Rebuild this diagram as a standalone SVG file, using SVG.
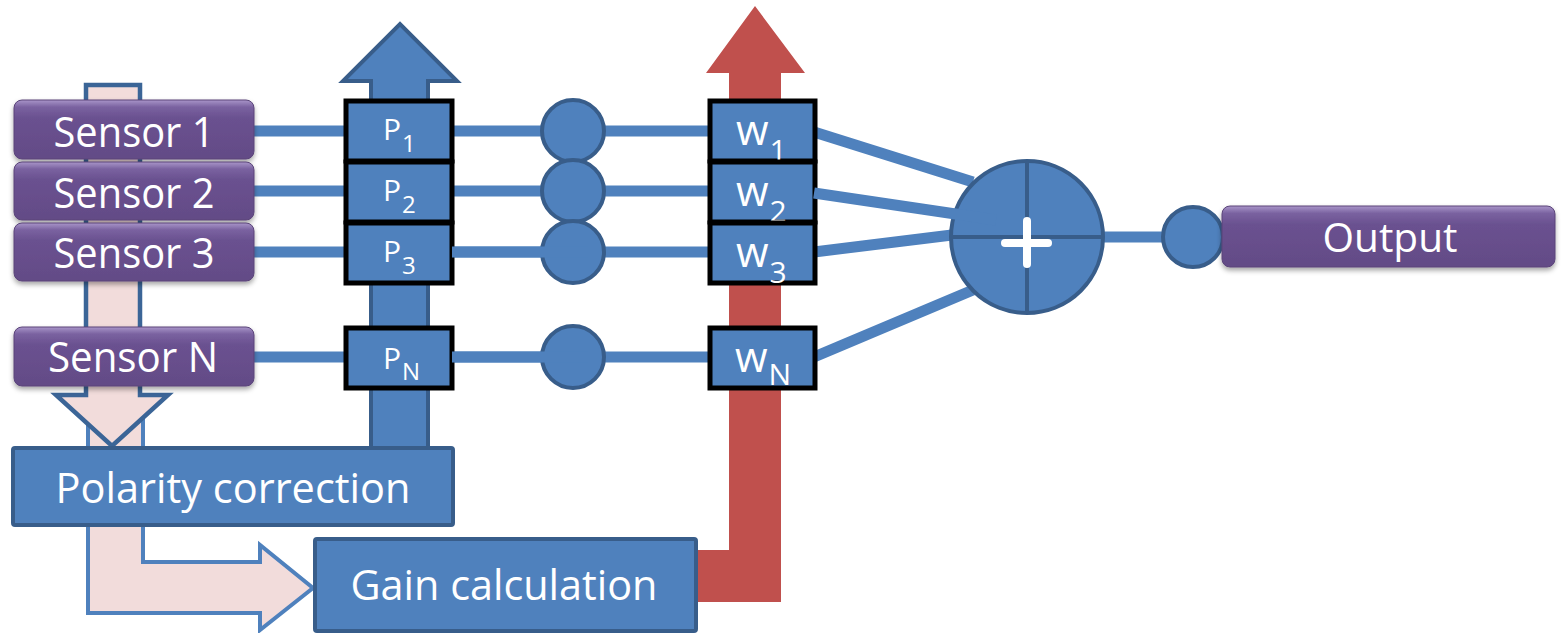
<svg xmlns="http://www.w3.org/2000/svg" width="1562" height="633" viewBox="0 0 1562 633">
  <defs>
    <linearGradient id="purpleGloss" x1="0" y1="0" x2="0" y2="1">
      <stop offset="0" stop-color="#A995C9"/>
      <stop offset="0.12" stop-color="#7A62A0"/>
      <stop offset="0.3" stop-color="#6A5190"/>
      <stop offset="1" stop-color="#634B86"/>
    </linearGradient>
    <filter id="shadow" x="-10%" y="-20%" width="120%" height="150%">
      <feDropShadow dx="0" dy="3" stdDeviation="2.5" flood-color="#000" flood-opacity="0.35"/>
    </filter>
    <style>
      .lbl { font-family: "Open Sans", "Liberation Sans", sans-serif; fill: #fff; text-anchor: middle; }
      .big { font-size: 42px; }
      .sensor { fill: url(#purpleGloss); stroke: #5A4479; stroke-width: 1; filter: url(#shadow); }
      .blk { fill: #4F81BD; stroke: #385D8A; stroke-width: 4; }
      .cell { fill: #4F81BD; stroke: #000; stroke-width: 5; }
      .wire { stroke: #4F81BD; stroke-width: 11; fill: none; }
      .dot { fill: #4F81BD; stroke: #385D8A; stroke-width: 4; }
      .sym { font-family: "Open Sans", "Liberation Sans", sans-serif; fill: #fff; }
      .pl { font-size: 30px; }
      .ps { font-size: 24px; }
      .wl { font-size: 42px; }
      .ws { font-size: 30px; }
    </style>
  </defs>

  <!-- flow arrows behind the blocks -->
  <g id="flows">
    <path d="M88,400 L88,613 L260,613 L260,630 L313,588 L260,545 L260,562 L143,562 L143,400 Z" fill="#F2DCDB" stroke="#4F81BD" stroke-width="4" stroke-linejoin="miter"/>
    <path d="M86,85 L140,85 L140,395 L168,395 L112,446 L56,395 L86,395 Z" fill="#F2DCDB" stroke="#3B6597" stroke-width="4.5"/>
    <path d="M371,449 L371,81 L343,81 L400,24 L457,81 L428,81 L428,449 Z" fill="#4F81BD" stroke="#385D8A" stroke-width="4"/>
    <path d="M690,550 L729,550 L729,73 L706,73 L755,6 L805,73 L781,73 L781,602 L690,602 Z" fill="#C0504D"/>
  </g>

  <!-- signal wires -->
  <g id="connectors">
    <line class="wire" x1="254" y1="131" x2="346" y2="131"/>
    <line class="wire" x1="254" y1="191" x2="346" y2="191"/>
    <line class="wire" x1="254" y1="252" x2="346" y2="252"/>
    <line class="wire" x1="254" y1="357" x2="346" y2="357"/>
    <line class="wire" x1="452" y1="131" x2="710" y2="131"/>
    <line class="wire" x1="452" y1="191" x2="710" y2="191"/>
    <line class="wire" x1="452" y1="252" x2="710" y2="252"/>
    <line class="wire" x1="452" y1="357" x2="710" y2="357"/>
    <line class="wire" x1="814" y1="132" x2="973" y2="182"/>
    <line class="wire" x1="814" y1="252" x2="952" y2="235"/>
    <line class="wire" x1="814" y1="357" x2="973" y2="290"/>
    <line class="wire" x1="1100" y1="237" x2="1165" y2="237"/>
  </g>

  <!-- polarity cells -->
  <g id="p1"><rect class="cell" x="346" y="101" width="106" height="60"/><text class="sym pl" x="383" y="140">P<tspan class="ps" dx="1" dy="12">1</tspan></text></g>
  <g id="p2"><rect class="cell" x="346" y="162" width="106" height="60"/><text class="sym pl" x="383" y="201">P<tspan class="ps" dx="1" dy="12">2</tspan></text></g>
  <g id="p3"><rect class="cell" x="346" y="223" width="106" height="60"/><text class="sym pl" x="383" y="262">P<tspan class="ps" dx="1" dy="12">3</tspan></text></g>
  <g id="pN"><rect class="cell" x="346" y="328" width="106" height="60"/><text class="sym pl" x="383" y="369">P<tspan class="ps" font-size="22" dx="1" dy="11">N</tspan></text></g>

  <!-- delay nodes -->
  <g id="d1"><circle class="dot" cx="573" cy="131" r="31"/></g>
  <g id="d2"><circle class="dot" cx="573" cy="191" r="31"/></g>
  <g id="d3"><circle class="dot" cx="573" cy="252" r="31"/><line class="wire" x1="452" y1="252" x2="588" y2="252"/></g>
  <g id="dN"><circle class="dot" cx="573" cy="357" r="31"/><line class="wire" x1="452" y1="357" x2="588" y2="357"/></g>

  <!-- weight cells -->
  <g id="w1"><rect class="cell" x="710" y="101" width="105" height="60"/><text class="sym wl" x="736" y="145">w<tspan class="ws" dx="1" dy="16">1</tspan></text></g>
  <g id="w2"><rect class="cell" x="710" y="162" width="105" height="60"/><text class="sym wl" x="736" y="206">w<tspan class="ws" dx="1" dy="16">2</tspan></text></g>
  <g id="w3"><rect class="cell" x="710" y="223" width="105" height="60"/><text class="sym wl" x="736" y="267">w<tspan class="ws" dx="1" dy="16">3</tspan></text></g>
  <g id="wN"><rect class="cell" x="710" y="328" width="105" height="60"/><text class="sym wl" x="735" y="372">w<tspan class="ws" dx="1" dy="13">N</tspan></text></g>

  <!-- summing junction -->
  <g id="sum">
    <circle class="dot" cx="1027" cy="237" r="76"/>
    <line x1="1027" y1="161" x2="1027" y2="313" stroke="#385D8A" stroke-width="4"/>
    <line x1="951" y1="237" x2="1103" y2="237" stroke="#385D8A" stroke-width="4"/>
    <line class="wire" x1="814" y1="193" x2="996" y2="220"/>
    <line x1="1005" y1="243" x2="1048" y2="243" stroke="#fff" stroke-width="8" stroke-linecap="round"/>
    <line x1="1027" y1="221" x2="1027" y2="264" stroke="#fff" stroke-width="8" stroke-linecap="round"/>
  </g>

  <g id="outNode"><circle class="dot" cx="1193" cy="237" r="30"/></g>

  <!-- processing blocks -->
  <g id="polarity">
    <rect class="blk" x="13" y="448" width="440" height="77" rx="2"/>
    <text class="lbl big" x="233" y="503" textLength="355" lengthAdjust="spacingAndGlyphs">Polarity correction</text>
  </g>
  <g id="gain">
    <rect class="blk" x="315" y="539" width="381" height="92" rx="2"/>
    <text class="lbl big" x="504" y="600" textLength="307" lengthAdjust="spacingAndGlyphs">Gain calculation</text>
  </g>

  <!-- sensors and output -->
  <g id="sensor1">
    <rect class="sensor" x="14" y="100" width="240" height="59" rx="8"/>
    <text class="lbl big" x="134" y="147" textLength="161" lengthAdjust="spacingAndGlyphs">Sensor 1</text>
  </g>
  <g id="sensor2">
    <rect class="sensor" x="14" y="162" width="240" height="58" rx="8"/>
    <text class="lbl big" x="134" y="208" textLength="161" lengthAdjust="spacingAndGlyphs">Sensor 2</text>
  </g>
  <g id="sensor3">
    <rect class="sensor" x="14" y="223" width="240" height="58" rx="8"/>
    <text class="lbl big" x="134" y="268" textLength="161" lengthAdjust="spacingAndGlyphs">Sensor 3</text>
  </g>
  <g id="sensorN">
    <rect class="sensor" x="14" y="327" width="240" height="59" rx="8"/>
    <text class="lbl big" x="133" y="372" textLength="170" lengthAdjust="spacingAndGlyphs">Sensor N</text>
  </g>
  <g id="output">
    <rect class="sensor" x="1222" y="206" width="333" height="61" rx="8"/>
    <text class="lbl" font-size="40" x="1390" y="252" textLength="135" lengthAdjust="spacingAndGlyphs">Output</text>
  </g>
</svg>
